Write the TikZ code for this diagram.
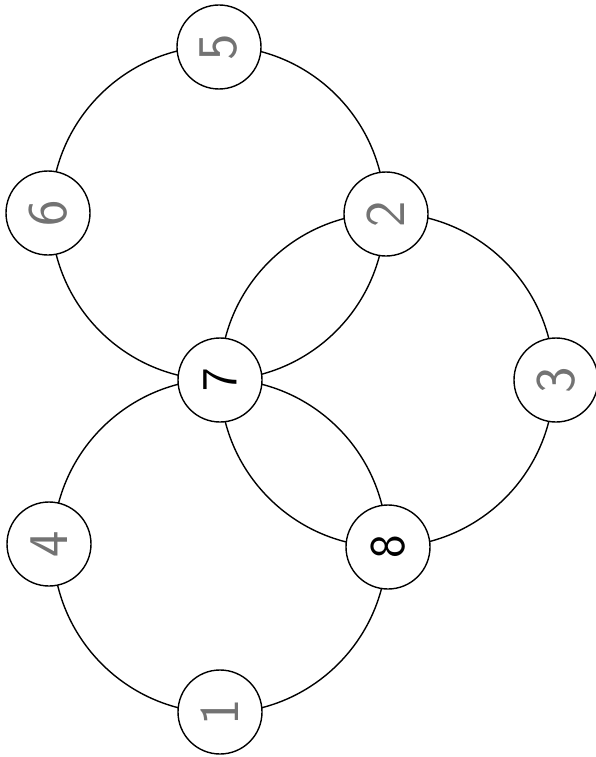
\documentclass[tikz,border=0pt]{standalone}
\usepackage{fontspec}
\begin{document}
\begin{tikzpicture}[x=1pt,y=-1pt,
  ring/.style={draw=black,line width=1.4pt},
  numnode/.style={circle,draw=black,line width=1.4pt,fill=white,minimum size=84pt,inner sep=0pt},
  pencil/.style={text=black!55,font=\sffamily\fontsize{56}{56}\selectfont,rotate=90},
  ink/.style={text=black,font=\sffamily\fontsize{50}{50}\selectfont,rotate=90}]
\useasboundingbox[fill=white] (0,0) rectangle (596,757);
% big circles
\coordinate (ctop) at (218,213);
\coordinate (cright) at (387,380);
\coordinate (cbottom) at (220,546);
\draw[ring] (ctop) circle[radius=167];
\draw[ring] (cright) circle[radius=167];
\draw[ring] (cbottom) circle[radius=167];
% number nodes
\node[numnode] (n5) at (219,47) {};
\node[numnode] (n6) at (48,213) {};
\node[numnode] (n2) at (386,214) {};
\node[numnode] (n7) at (220,380) {};
\node[numnode] (n3) at (556,380) {};
\node[numnode] (n4) at (49,544) {};
\node[numnode] (n8) at (388,547) {};
\node[numnode] (n1) at (220,712) {};
\node[pencil] at (n5) {5};
\node[pencil] at (n6) {6};
\node[pencil] at (n2) {2};
\node[ink] at (n7) {7};
\node[pencil] at (n3) {3};
\node[pencil] at (n4) {4};
\node[ink] at (n8) {8};
\node[pencil] at (n1) {1};
\end{tikzpicture}
\end{document}
